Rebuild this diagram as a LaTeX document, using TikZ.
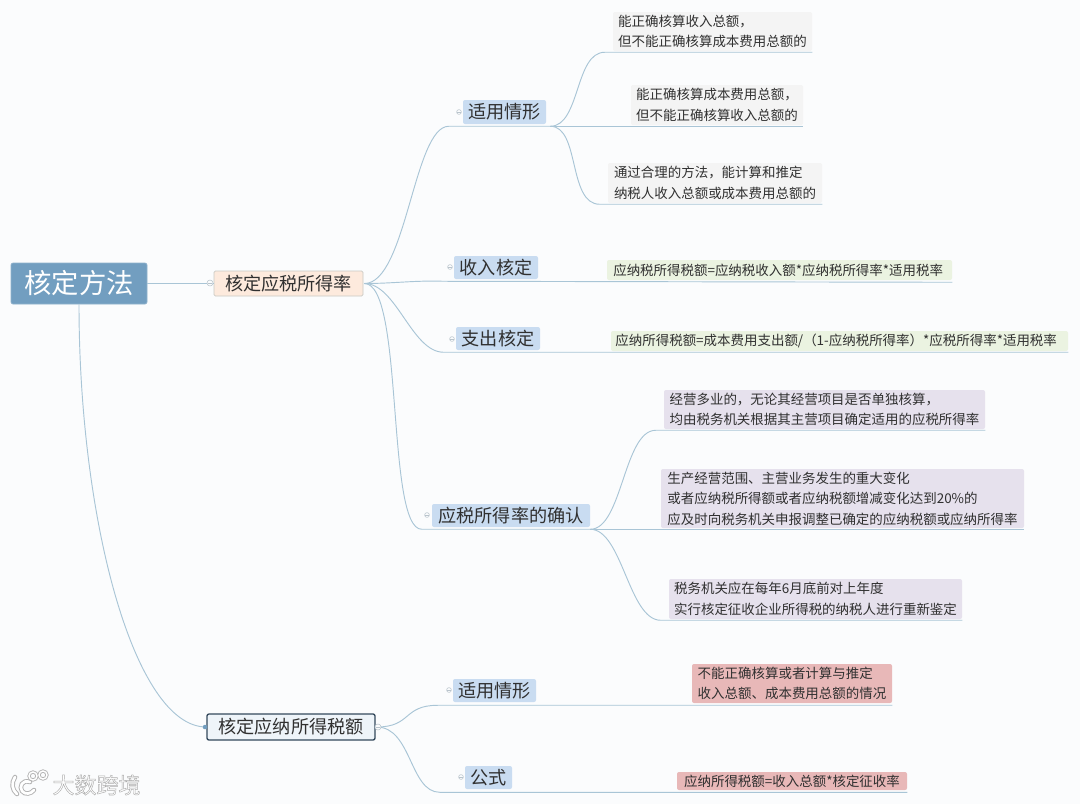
\documentclass[tikz,border=0pt]{standalone}
\usepackage{fontspec}
\setmainfont{Noto Sans CJK SC}
\definecolor{bgc}{HTML}{FBFCFD}
\definecolor{linec}{HTML}{A9C5D6}
\definecolor{txt}{HTML}{303030}
\tikzset{x=0.75pt,y=-0.75pt,
 box/.style={inner sep=0pt,rounded corners=1.5pt,text=txt,align=left,font=\fontsize{10.1pt}{15.4pt}\selectfont},
 root/.style={box,fill=rootc,draw=rootd,line width=.5pt,text=white,font=\fontsize{20.5pt}{24pt}\selectfont},
 mainA/.style={box,fill=mainac,draw=maind,line width=.6pt,rounded corners=1pt,font=\fontsize{13.6pt}{16pt}\selectfont},
 mainB/.style={box,fill=mainbc,draw=mainbd,line width=1pt,font=\fontsize{13.6pt}{16pt}\selectfont},
 sub/.style={box,fill=subc,font=\fontsize{13.6pt}{16pt}\selectfont},
 leafG/.style={box,fill=grayc},
 leafL/.style={box,fill=greenc},
 leafP/.style={box,fill=purplec},
 leafR/.style={box,fill=redc},
 conn/.style={draw=linec,line width=.7pt},
 knob/.style={circle,draw=knobc,fill=bgc,line width=.4pt,minimum size=4.5pt,inner sep=0pt,path picture={\draw[knobc,line width=.4pt] ([xshift=-1.3pt]path picture bounding box.center)--([xshift=1.3pt]path picture bounding box.center);}},
 wm/.style={inner sep=0pt,font=\fontsize{16.5pt}{18pt}\selectfont},
}
\definecolor{rootc}{HTML}{729EC0}
\definecolor{rootd}{HTML}{8FB2CC}
\definecolor{mainac}{HTML}{FDEADD}
\definecolor{maind}{HTML}{C9C9C4}
\definecolor{mainbc}{HTML}{EEF4F9}
\definecolor{mainbd}{HTML}{34495C}
\definecolor{subc}{HTML}{C9DCF1}
\definecolor{grayc}{HTML}{F4F4F4}
\definecolor{greenc}{HTML}{EBF3E1}
\definecolor{purplec}{HTML}{E6E1ED}
\definecolor{redc}{HTML}{E8B8B8}
\definecolor{knobc}{HTML}{B9C4CC}
\newcommand\bx[7]{\node[#6,minimum width={(#4-#2)*0.75pt},minimum height={(#5-#3)*0.75pt}] (#1) at ({(#2+#4)/2},{(#3+#5)/2}) {#7};}
\begin{document}
\begin{tikzpicture}
\fill[bgc] (0,0) rectangle (1080,804);
\useasboundingbox (0,0) rectangle (1080,804);
% nodes
\bx{root}{11}{263}{147}{304}{root}{核定方法}
\bx{ma}{214}{271}{363}{296}{mainA}{核定应税所得率}
\bx{mb}{207}{714}{375}{740}{mainB}{核定应纳所得税额}
\bx{s1}{463}{100}{546}{124}{sub}{适用情形}
\bx{s2}{454}{256}{538}{279}{sub}{收入核定}
\bx{s3}{456}{327}{540}{350}{sub}{支出核定}
\bx{s4}{432}{504}{590}{527}{sub}{应税所得率的确认}
\bx{s5}{453}{679}{536}{702}{sub}{适用情形}
\bx{s6}{465}{766}{512}{789}{sub}{公式}
\bx{g1}{613}{12}{812}{51}{leafG}{能正确核算收入总额，\\但不能正确核算成本费用总额的}
\bx{g2}{631}{85}{803}{125}{leafG}{能正确核算成本费用总额，\\但不能正确核算收入总额的}
\bx{g3}{608}{163}{822}{203}{leafG}{通过合理的方法，能计算和推定\\纳税人收入总额或成本费用总额的}
\bx{l1}{607}{260}{952}{280}{leafL}{应纳税所得税额=应纳税收入额*应纳税所得率*适用税率\hspace{2pt}}
\bx{l2}{611}{331}{1068}{351}{leafL}{应纳所得税额=成本费用支出额/（1-应纳税所得率）*应税所得率*适用税率\hspace{5pt}}
\bx{p1}{664}{390}{985}{429}{leafP}{经营多业的，无论其经营项目是否单独核算，\\均由税务机关根据其主营项目确定适用的应税所得率}
\bx{p2}{661}{469}{1024}{528}{leafP}{生产经营范围、主营业务发生的重大变化\\或者应纳税所得额或者应纳税额增减变化达到20\%的\\应及时向税务机关申报调整已确定的应纳税额或应纳所得率}
\bx{p3}{669}{579}{962}{619}{leafP}{税务机关应在每年6月底前对上年度\\实行核定征收企业所得税的纳税人进行重新鉴定}
\bx{r1}{692}{664}{892}{703}{leafR}{不能正确核算或者计算与推定\\收入总额、成本费用总额的情况}
\bx{r2}{677}{772}{907}{790}{leafR}{应纳所得税额=收入总额*核定征收率}
% junctions
\coordinate (ja) at ([shift={(1,0)}]ma.east);
\coordinate (jb) at ([shift={(1,0)}]mb.east);
\coordinate (j1) at ([shift={(4,2)}]s1.south east);
\coordinate (j4) at ([shift={(0,2)}]s4.south east);
% connectors
\draw[conn] (root.east) -- (ma.west);
\draw[conn] (root.south) .. controls +(0,216) and +(-72,0) .. (mb.west);
\draw[conn] (ja) .. controls +(42,0) and +(-35,0) .. ([shift={(-14,2)}]s1.south west) -- (j1);
\draw[conn] (ja) .. controls +(30,0) and +(-30,-1) .. ([shift={(-10,2)}]s2.south west) -- ([shift={(0,2)}]l1.south east);
\draw[conn] (ja) .. controls +(32,0) and +(-32,0) .. ([shift={(-12,2)}]s3.south west) -- ([shift={(0,1)}]l2.south east);
\draw[conn] (ja) .. controls +(40,0) and +(-36,0) .. ([shift={(-10,2)}]s4.south west) -- (j4);
\draw[conn] (jb) .. controls +(35,0) and +(-35,0) .. ([shift={(-15,3)}]s5.south west) -- ([shift={(0,2)}]r1.south east);
\draw[conn] (jb) .. controls +(35,0) and +(-30,0) .. ([shift={(-25,3)}]s6.south west) -- ([shift={(0,2)}]r2.south east);
\draw[conn] (j1) .. controls +(30,0) and +(-30,0) .. ([shift={(-8,1)}]g1.south west) -- ([shift={(0,1)}]g1.south east);
\draw[conn] (j1) -- ([shift={(0,1)}]g2.south east);
\draw[conn] (j1) .. controls +(30,0) and +(-32,0) .. ([shift={(-8,1)}]g3.south west) -- ([shift={(0,1)}]g3.south east);
\draw[conn] (j4) .. controls +(32,0) and +(-32,0) .. ([shift={(-8,1)}]p1.south west) -- ([shift={(0,1)}]p1.south east);
\draw[conn] (j4) -- ([shift={(0,1)}]p2.south east);
\draw[conn] (j4) .. controls +(32,0) and +(-32,0) .. ([shift={(-8,1)}]p3.south west) -- ([shift={(0,1)}]p3.south east);
% collapse knobs
\node[knob] (k1) at (210,283) {};
\node[knob] (k2) at (378,727) {};
\node[knob,minimum size=3.6pt] (k3) at (459,112) {};
\node[knob,minimum size=3.6pt] (k4) at (450,267) {};
\node[knob,minimum size=3.6pt] (k5) at (452,339) {};
\node[knob,minimum size=3.6pt] (k6) at (427,515) {};
\node[knob,minimum size=3.6pt] (k7) at (449,690) {};
\node[knob,minimum size=3.6pt] (k8) at (461,777) {};
\fill[rootc] (205,727) circle (1.7pt);
% watermark
\node[wm,text=white] (wmark) at (96.5,785) {\special{pdf:code q 2 Tr 0.35 w 0.68 G}大数跨境\special{pdf:code Q}};
\foreach \c/\w in {black!30/3.4pt,white/2pt}{
 \draw[\c,line width=\w,line cap=round] (15,777) .. controls (11,783) and (12,790) .. (17,794);
 \draw[\c,line width=\w,line cap=round] (30,782) .. controls (22,779) and (19,787) .. (22,791) .. controls (25,795) and (31,794) .. (34,790);
}
\foreach \c/\w in {black!30/2.4pt,white/1.1pt}{
 \draw[\c,line width=\w] (33,776) circle (4);
 \draw[\c,line width=\w] (43,775) circle (4);
}
\end{tikzpicture}
\end{document}
